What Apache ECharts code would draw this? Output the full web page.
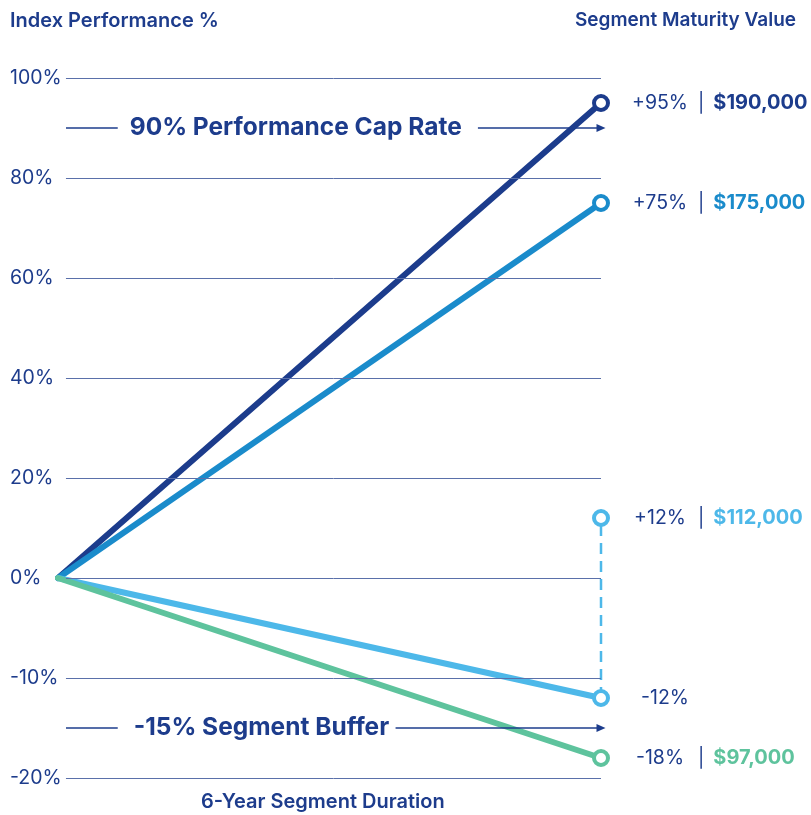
<!DOCTYPE html>
<html><head><meta charset="utf-8">
<script src="https://cdn.jsdelivr.net/npm/echarts@6/dist/echarts.min.js"></script>
<style>html,body{margin:0;padding:0;background:#fff}#c{width:811px;height:815px}</style>
</head><body><div id="c"></div>
<script>
// ---- data ----
const years = [0, 6];
const yTickValues = [100, 80, 60, 40, 20, 0, -10, -20];
const capSeries = [0, 95];        // 90% cap strategy
const fullSeries = [0, 75];       // index performance
const bufferUpSeries = [12];      // alternate +12% outcome
const bufferDownSeries = [0, -12];
const lossSeries = [0, -18];
const pctLabels = { cap: '+95%', full: '+75%', up: '+12%', down: '-12%', loss: '-18%' };
const valueLabels = { cap: '$190,000', full: '$175,000', up: '$112,000', down: '', loss: '$97,000' };
const capRate = 90, bufferRate = -15;
const xTitle = '6-Year Segment Duration';
const yTitle = 'Index Performance %';
const rightTitle = 'Segment Maturity Value';

// ---- helpers ----
const toAxis = v => v >= 0 ? v / 20 : v / 10;         // axis is 20% per step above 0, 10% per step below
const fromAxis = a => a >= 0 ? a * 20 : a * 10;
const NAVY = '#1c3c8c', MID = '#1a8bcb', LIGHT = '#4db8e9', GREEN = '#5ec39d', TEXT = '#1d3c8c';
const FONT = 'Inter, "Noto Sans", sans-serif';
const GRID_START = 0.088;   // gridlines start a little right of the origin

function endLabel(key, col) {
  const v = valueLabels[key];
  return {
    show: true, position: 'right', distance: 21,
    formatter: v ? '{p|' + pctLabels[key] + '}{s||}{v|' + v + '}' : '{p|' + pctLabels[key] + '}',
    rich: {
      p: { fontFamily: FONT, fontSize: 19.5, color: TEXT, width: 58, align: 'right' },
      s: { fontFamily: FONT, fontSize: 19, color: TEXT, padding: [0, 9, 0, 9] },
      v: { fontFamily: FONT, fontSize: 20, color: col, fontWeight: 'bold' }
    }
  };
}
function lineSeries(vals, col, key) {
  return {
    type: 'line', clip: false, z: 3,
    data: years.map((x, i) => {
      const d = { value: [x, toAxis(vals[i])] };
      if (i === 0) { d.symbol = 'none'; }
      else { d.label = endLabel(key, col); }
      return d;
    }),
    symbol: 'circle', symbolSize: 14,
    itemStyle: { color: '#fff', borderColor: col, borderWidth: 4 },
    lineStyle: { color: col, width: 6, cap: 'round' },
    emphasis: { disabled: true },
    animation: false
  };
}
// annotation segment positions (x in years)
const annot = {
  capLeftEnd: 0.66, capArrowStart: 4.64,
  bufLeftEnd: 0.66, bufArrowStart: 3.73
};
const annotLabel = (txt, dist) => ({
  show: true, position: 'end', distance: dist, formatter: txt,
  color: TEXT, fontFamily: FONT, fontSize: 24.5, fontWeight: 'bold'
});
const plainLine = { color: NAVY, width: 1.5, type: 'solid' };
const gridLineStyle = { color: '#5a70aa', width: 1, type: 'solid' };

const option = {
  backgroundColor: '#fff',
  animation: false,
  grid: { left: 58, right: 210, top: 78, bottom: 37 },
  title: [
    { text: yTitle, left: 5, top: 6, textStyle: { fontFamily: FONT, fontSize: 20, fontWeight: 600, color: TEXT } },
    { text: rightTitle, right: 10, top: 6, textStyle: { fontFamily: FONT, fontSize: 19, fontWeight: 600, color: TEXT } }
  ],
  graphic: [{
    type: 'text', left: 201, top: 792,
    style: { text: xTitle, fontFamily: FONT, fontSize: 20, fontWeight: 600, fill: TEXT }
  }],
  xAxis: {
    type: 'value', min: 0, max: 6,
    axisLine: { show: false }, axisTick: { show: false }, axisLabel: { show: false }, splitLine: { show: false }
  },
  yAxis: {
    type: 'value', min: toAxis(yTickValues[yTickValues.length - 1]), max: toAxis(yTickValues[0]), interval: 1,
    axisLine: { show: false }, axisTick: { show: false },
    axisLabel: { align: 'left', margin: 48, fontFamily: FONT, fontSize: 19.5, color: TEXT,
      formatter: a => Math.round(fromAxis(a)) + '%' },
    splitLine: { show: false }
  },
  series: [
    {
      type: 'line', data: [], z: 1, silent: true, animation: false,
      markLine: {
        silent: true, animation: false, symbol: 'none', label: { show: false },
        lineStyle: gridLineStyle,
        data: yTickValues.map(v => [{ coord: [GRID_START, toAxis(v)] }, { coord: [6, toAxis(v)] }])
      }
    },
    Object.assign(lineSeries(capSeries, NAVY, 'cap'), {
      markLine: {
        silent: true, animation: false, symbol: 'none',
        data: [
          [{ coord: [GRID_START, toAxis(capRate)], lineStyle: plainLine, label: annotLabel(capRate + '% Performance Cap Rate', 12) },
           { coord: [annot.capLeftEnd, toAxis(capRate)] }],
          [{ coord: [annot.capArrowStart, toAxis(capRate)], lineStyle: plainLine, label: { show: false }, symbol: 'none' },
           { coord: [6, toAxis(capRate)], symbol: 'triangle', symbolSize: [8, 9], symbolRotate: -90 }],
          [{ coord: [GRID_START, toAxis(bufferRate)], lineStyle: plainLine, label: annotLabel(bufferRate + '% Segment Buffer', 16) },
           { coord: [annot.bufLeftEnd, toAxis(bufferRate)] }],
          [{ coord: [annot.bufArrowStart, toAxis(bufferRate)], lineStyle: plainLine, label: { show: false }, symbol: 'none' },
           { coord: [6, toAxis(bufferRate)], symbol: 'triangle', symbolSize: [8, 9], symbolRotate: -90 }]
        ]
      }
    }),
    lineSeries(fullSeries, MID, 'full'),
    {
      type: 'line', clip: false, z: 2, animation: false,
      data: [
        { value: [years[1], toAxis(bufferDownSeries[1])], symbol: 'none' },
        { value: [years[1], toAxis(bufferUpSeries[0])], label: endLabel('up', LIGHT) }
      ],
      symbol: 'circle', symbolSize: 14,
      itemStyle: { color: '#fff', borderColor: LIGHT, borderWidth: 4 },
      lineStyle: { color: LIGHT, width: 2.5, type: [11, 7] },
      emphasis: { disabled: true }
    },
    lineSeries(bufferDownSeries, LIGHT, 'down'),
    lineSeries(lossSeries, GREEN, 'loss')
  ]
};
const chart = echarts.init(document.getElementById('c'), null, { renderer: 'canvas' });
chart.setOption(option);
</script>
</body></html>
